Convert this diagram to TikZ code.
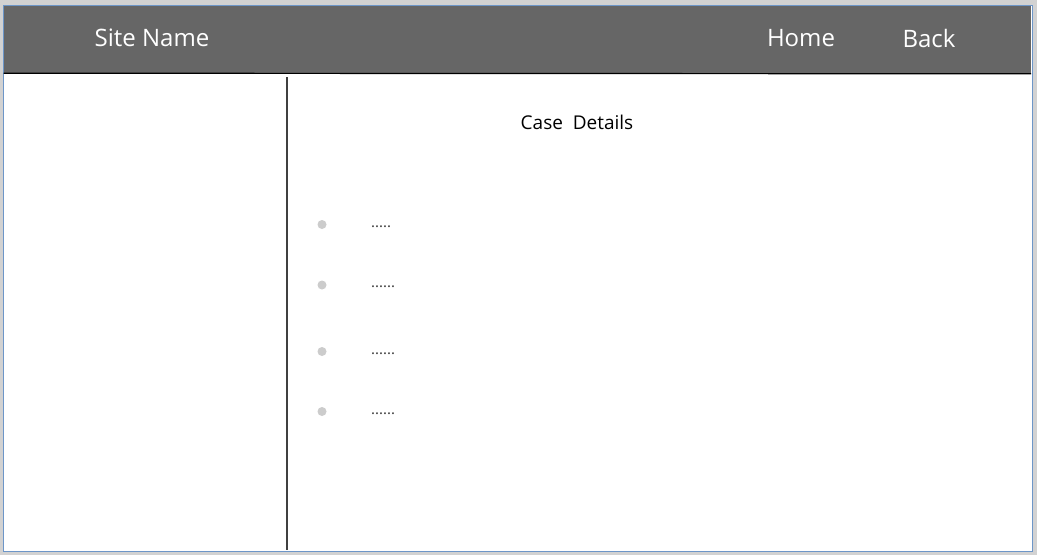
\documentclass[tikz,border=0pt]{standalone}
\usepackage{fontspec}
\setmainfont{Open Sans}
\definecolor{margin}{HTML}{D2D2D2}
\definecolor{framecol}{HTML}{6D96C8}
\definecolor{headcol}{HTML}{666666}
\definecolor{bulletcol}{HTML}{CCCCCC}
\begin{document}
\begin{tikzpicture}[x=1pt,y=-1pt,
  navtext/.style={text=white,font=\fontsize{24}{27}\selectfont,inner sep=0pt},
  titletext/.style={text=black,font=\fontsize{19}{22}\selectfont,inner sep=0pt},
  dotstext/.style={text=black!80,font=\fontsize{15}{17}\selectfont,inner sep=0pt,anchor=west},
  bulletdot/.style={circle,fill=bulletcol,minimum size=9pt,inner sep=0pt}]
\useasboundingbox (0,0) rectangle (1037,555);
\fill[margin] (0,0) rectangle (1037,555);
% page frame
\node[draw=framecol,line width=1.6pt,fill=white,minimum width=1029pt,minimum height=546pt,inner sep=0pt,anchor=north west] (page) at (2.75,4.75) {};
% header
\fill[headcol] (3.6,5.6) rectangle (1031.2,73);
\draw[black,line width=1.2pt] (3.6,73.2) -- (1031.2,73.8);
\node[navtext] (site) at (152,38) {Site Name};
\node[navtext] (home) at (801,38) {Home};
\node[navtext] (back) at (929,38) {Back};
% divider
\coordinate (divtop) at (287,77);
\coordinate (divbot) at (287,550);
\draw[black!75,line width=1.2pt] (divtop) -- (divbot);
% content
\node[titletext] (title) at (577,122) {Case\ \ Details};
\node[bulletdot] (b1) at (322,224.5) {};
\node[bulletdot] (b2) at (322,285) {};
\node[bulletdot] (b3) at (322,351.5) {};
\node[bulletdot] (b4) at (322,411.5) {};
\node[dotstext] (d1) at (371,227) {.....};
\node[dotstext] (d2) at (371,287) {......};
\node[dotstext] (d3) at (371,354) {......};
\node[dotstext] (d4) at (371,414) {......};
\end{tikzpicture}
\end{document}
